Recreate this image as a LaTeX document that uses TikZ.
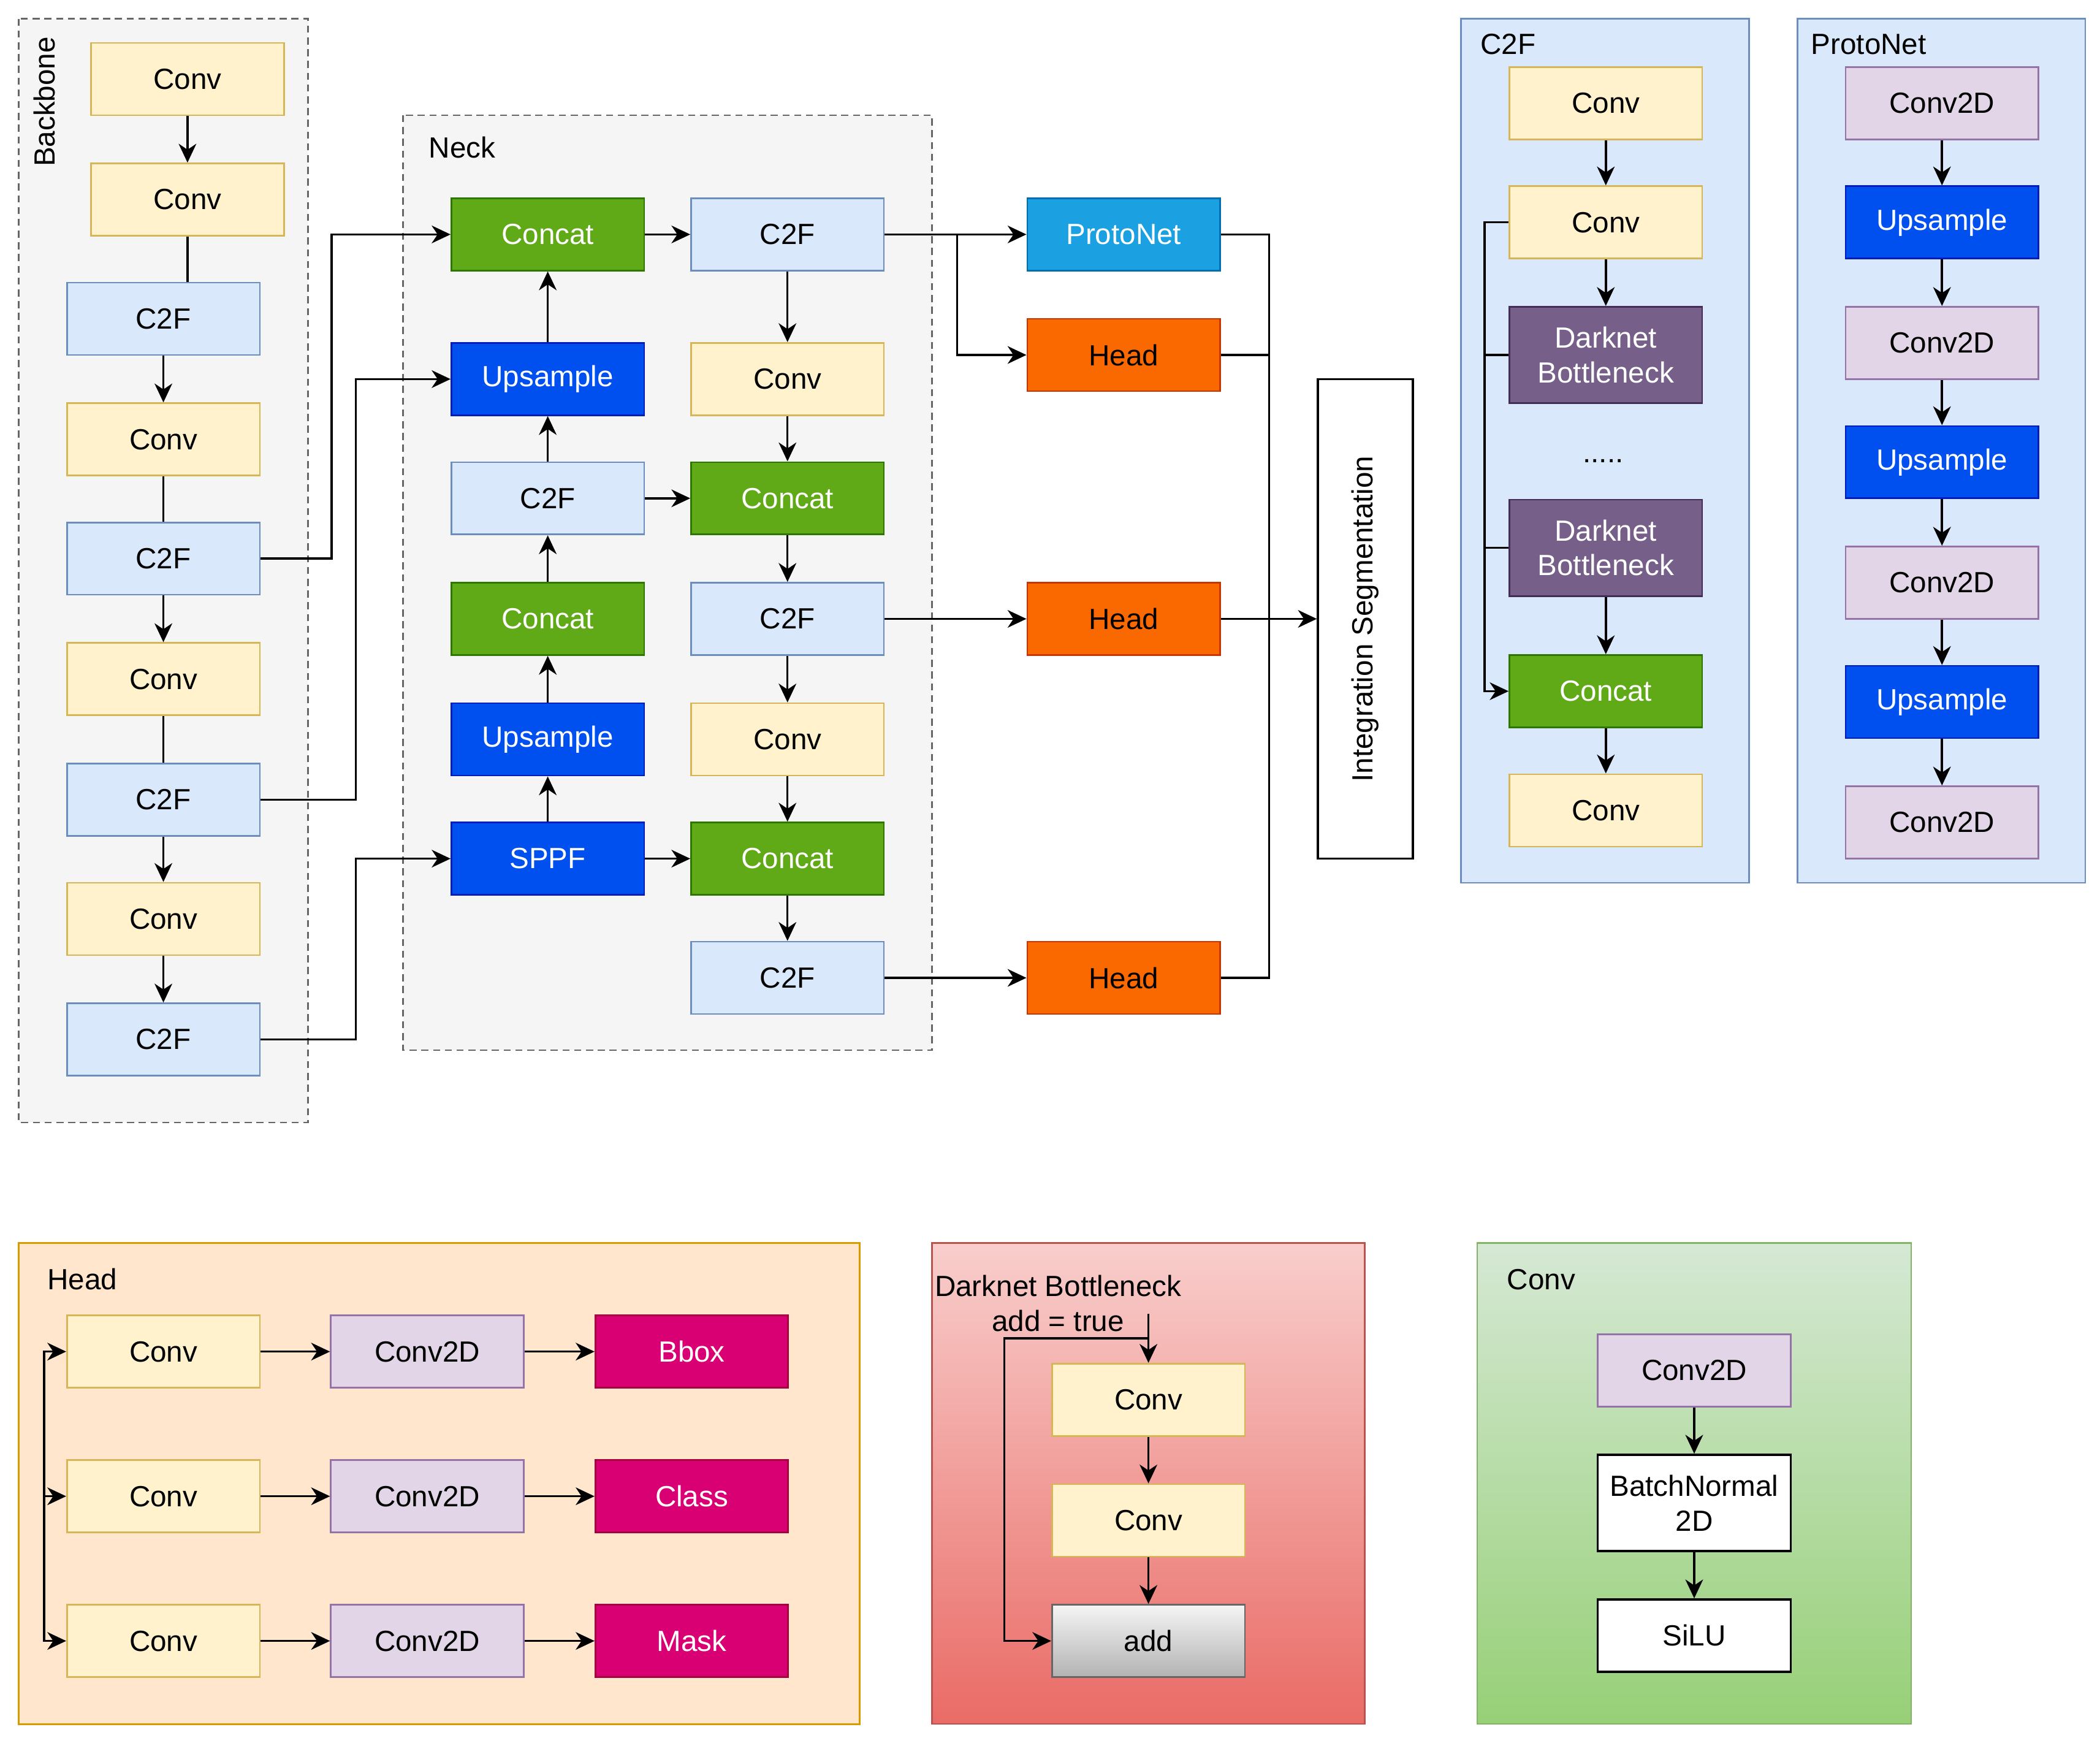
\documentclass[tikz,border=0pt]{standalone}
\usepackage{fontspec}
\setmainfont{Liberation Sans}
\usetikzlibrary{arrows.meta,calc}
\definecolor{convF}{HTML}{FFF2CC}\definecolor{convD}{HTML}{D6B656}
\definecolor{c2fF}{HTML}{DAE8FC}\definecolor{c2fD}{HTML}{6C8EBF}
\definecolor{catF}{HTML}{60A917}\definecolor{catD}{HTML}{2D7600}
\definecolor{upF}{HTML}{0050EF}\definecolor{upD}{HTML}{001DBC}
\definecolor{pnF}{HTML}{1BA1E2}\definecolor{pnD}{HTML}{006EAF}
\definecolor{hdF}{HTML}{FA6800}\definecolor{hdD}{HTML}{C73500}
\definecolor{dbF}{HTML}{76608A}\definecolor{dbD}{HTML}{432D57}
\definecolor{cdF}{HTML}{E1D5E7}\definecolor{cdD}{HTML}{9673A6}
\definecolor{mgF}{HTML}{D80073}\definecolor{mgD}{HTML}{A50040}
\definecolor{grF}{HTML}{F5F5F5}\definecolor{grD}{HTML}{666666}
\definecolor{orF}{HTML}{FFE6CC}\definecolor{orD}{HTML}{D79B00}
\definecolor{rdT}{HTML}{F8CECC}\definecolor{rdB}{HTML}{EA6B66}\definecolor{rdD}{HTML}{B85450}
\definecolor{gnT}{HTML}{D5E8D4}\definecolor{gnB}{HTML}{97D077}\definecolor{gnD}{HTML}{82B366}
\definecolor{adB}{HTML}{B3B3B3}
\tikzset{
  txt/.style={font=\fontsize{12.4}{14.7}\selectfont},
  blk/.style={rectangle, draw, minimum width=2.88cm, minimum height=1.08cm, inner sep=0pt, line width=0.7pt, align=center, txt},
  convbox/.style={blk, fill=convF, draw=convD},
  c2fbox/.style={blk, fill=c2fF, draw=c2fD},
  catbox/.style={blk, fill=catF, draw=catD, text=white},
  upbox/.style={blk, fill=upF, draw=upD, text=white},
  pnbox/.style={blk, fill=pnF, draw=pnD, text=white},
  headbox/.style={blk, fill=hdF, draw=hdD},
  dbbox/.style={blk, fill=dbF, draw=dbD, text=white, minimum height=1.44cm},
  cdbox/.style={blk, fill=cdF, draw=cdD},
  outbox/.style={blk, fill=mgF, draw=mgD, text=white},
  plainbox/.style={blk, fill=white, draw=black, line width=0.9pt},
  addbox/.style={blk, top color=grF, bottom color=adB, draw=grD},
  arr/.style={-{Stealth[length=8pt,width=7.5pt,inset=2.5pt]}, line width=0.9pt},
  ln/.style={line width=0.9pt},
  lbl/.style={txt, inner sep=0pt, anchor=west},
  dashbox/.style={fill=grF, draw=grD, line width=0.7pt, dash pattern=on 3pt off 2pt},
}
\begin{document}
\begin{tikzpicture}[x=0.02cm,y=-0.02cm]
\useasboundingbox (0,0) rectangle (1568,1303);
\fill[white] (0,0) rectangle (1568,1303);
% containers
\draw[dashbox] (14,14) rectangle (230,838);
\draw[dashbox] (301,86) rectangle (696,784);
\draw[fill=c2fF, draw=c2fD, line width=0.7pt] (1091,14) rectangle (1306,659);
\draw[fill=c2fF, draw=c2fD, line width=0.7pt] (1342,14) rectangle (1557,659);
\draw[fill=orF, draw=orD, line width=0.8pt] (14,928) rectangle (642,1287);
\draw[top color=rdT, bottom color=rdB, draw=rdD, line width=0.7pt] (696,928) rectangle (1019,1287);
\draw[top color=gnT, bottom color=gnB, draw=gnD, line width=0.7pt] (1103,928) rectangle (1427,1287);
% container labels
\node[txt, rotate=90, inner sep=0pt] (lbb) at (33,76) {Backbone};
\node[lbl] (lneck) at (320,110) {Neck};
\node[lbl] (lc2f) at (1105,33) {C2F};
\node[lbl] (lpn) at (1352,33) {ProtoNet};
\node[lbl] (lhead) at (35,955) {Head};
\node[lbl] (lconv) at (1125,955) {Conv};
\node[txt, align=center, inner sep=0pt] (ldb) at (790,973) {Darknet Bottleneck\\add = true};
% backbone
\node[convbox] (b1) at (140,59) {Conv};
\node[convbox] (b2) at (140,149) {Conv};
\node[c2fbox] (b3) at (122,238) {C2F};
\node[convbox] (b4) at (122,328) {Conv};
\node[c2fbox] (b5) at (122,417) {C2F};
\node[convbox] (b6) at (122,507) {Conv};
\node[c2fbox] (b7) at (122,597) {C2F};
\node[convbox] (b8) at (122,686) {Conv};
\node[c2fbox] (b9) at (122,776) {C2F};
\draw[arr] (b1) -- (b2);
\draw[ln] (b2.south) -- (b2.south |- b3.north);
\draw[arr] (b3) -- (b4);
\draw[ln] (b4) -- (b5);
\draw[arr] (b5) -- (b6);
\draw[ln] (b6) -- (b7);
\draw[arr] (b7) -- (b8);
\draw[arr] (b8) -- (b9);
% neck
\node[catbox] (n1) at (409,175) {Concat};
\node[upbox] (n2) at (409,283) {Upsample};
\node[c2fbox] (n3) at (409,372) {C2F};
\node[catbox] (n4) at (409,462) {Concat};
\node[upbox] (n5) at (409,552) {Upsample};
\node[upbox] (n6) at (409,641) {SPPF};
\node[c2fbox] (m1) at (588,175) {C2F};
\node[convbox] (m2) at (588,283) {Conv};
\node[catbox] (m3) at (588,372) {Concat};
\node[c2fbox] (m4) at (588,462) {C2F};
\node[convbox] (m5) at (588,552) {Conv};
\node[catbox] (m6) at (588,641) {Concat};
\node[c2fbox] (m7) at (588,730) {C2F};
\draw[arr] (b5.east) -- ++(53,0) |- (n1.west);
\draw[arr] (b7.east) -- ++(71,0) |- (n2.west);
\draw[arr] (b9.east) -- ++(71,0) |- (n6.west);
\draw[arr] (n2) -- (n1);
\draw[arr] (n3) -- (n2);
\draw[arr] (n4) -- (n3);
\draw[arr] (n5) -- (n4);
\draw[arr] (n6) -- (n5);
\draw[arr] (n1) -- (m1);
\draw[arr] (n3) -- (m3);
\draw[arr] (n6) -- (m6);
\draw[arr] (m1) -- (m2);
\draw[arr] (m2) -- (m3);
\draw[arr] (m3) -- (m4);
\draw[arr] (m4) -- (m5);
\draw[arr] (m5) -- (m6);
\draw[arr] (m6) -- (m7);
% outputs
\node[pnbox] (pn) at (839,175) {ProtoNet};
\node[headbox] (h1) at (839,265) {Head};
\node[headbox] (h2) at (839,462) {Head};
\node[headbox] (h3) at (839,730) {Head};
\node[plainbox, rotate=90, minimum width=7.16cm, minimum height=1.42cm] (seg) at (1019.5,462) {Integration Segmentation};
\draw[arr] (m1) -- (pn);
\draw[arr] (m1.east) -- ++(54,0) |- (h1.west);
\draw[arr] (m4) -- (h2);
\draw[arr] (m7) -- (h3);
\draw[ln] (pn.east) -- ++(36,0) coordinate (bus) -- (bus |- h3.east) -- (h3.east);
\draw[ln] (h1.east) -- (bus |- h1.east);
\draw[arr] (h2) -- (seg);
% C2F detail
\node[convbox] (c1) at (1199,77) {Conv};
\node[convbox] (c2) at (1199,166) {Conv};
\node[dbbox] (c3) at (1199,265) {Darknet\\Bottleneck};
\node[txt, inner sep=0pt] (cdots) at (1197,344) {.....};
\node[dbbox] (c4) at (1199,409) {Darknet\\Bottleneck};
\node[catbox] (c5) at (1199,516) {Concat};
\node[convbox] (c6) at (1199,605) {Conv};
\draw[arr] (c1) -- (c2);
\draw[arr] (c2) -- (c3);
\draw[arr] (c4) -- (c5);
\draw[arr] (c5) -- (c6);
\draw[arr] (c2.west) -- ++(-18,0) coordinate (cb) |- (c5.west);
\draw[ln] (c3.west) -- (cb |- c3.west);
\draw[ln] (c4.west) -- (cb |- c4.west);
% ProtoNet detail
\node[cdbox] (p1) at (1450,77) {Conv2D};
\node[upbox] (p2) at (1450,166) {Upsample};
\node[cdbox] (p3) at (1450,256) {Conv2D};
\node[upbox] (p4) at (1450,345) {Upsample};
\node[cdbox] (p5) at (1450,435) {Conv2D};
\node[upbox] (p6) at (1450,524) {Upsample};
\node[cdbox] (p7) at (1450,614) {Conv2D};
\draw[arr] (p1) -- (p2);
\draw[arr] (p2) -- (p3);
\draw[arr] (p3) -- (p4);
\draw[arr] (p4) -- (p5);
\draw[arr] (p5) -- (p6);
\draw[arr] (p6) -- (p7);
% Head detail
\node[convbox] (hc1) at (122,1009) {Conv};
\node[convbox] (hc2) at (122,1117) {Conv};
\node[convbox] (hc3) at (122,1225) {Conv};
\node[cdbox] (hd1) at (319,1009) {Conv2D};
\node[cdbox] (hd2) at (319,1117) {Conv2D};
\node[cdbox] (hd3) at (319,1225) {Conv2D};
\node[outbox] (ho1) at (516.5,1009) {Bbox};
\node[outbox] (ho2) at (516.5,1117) {Class};
\node[outbox] (ho3) at (516.5,1225) {Mask};
\coordinate (hsrc) at (33,1117);
\draw[arr] (hsrc) |- (hc1.west);
\draw[arr] (hsrc) -- (hc2.west);
\draw[arr] (hsrc) |- (hc3.west);
\draw[arr] (hc1) -- (hd1);
\draw[arr] (hd1) -- (ho1);
\draw[arr] (hc2) -- (hd2);
\draw[arr] (hd2) -- (ho2);
\draw[arr] (hc3) -- (hd3);
\draw[arr] (hd3) -- (ho3);
% Darknet bottleneck detail
\node[convbox] (d1) at (857.5,1045) {Conv};
\node[convbox] (d2) at (857.5,1135) {Conv};
\node[addbox] (d3) at (857.5,1225) {add};
\coordinate (dtop) at (857.5,981);
\coordinate (dsplit) at (857.5,999);
\draw[arr] (dtop) -- (d1.north);
\draw[arr] (dsplit) -- ++(-107.5,0) |- (d3.west);
\draw[arr] (d1) -- (d2);
\draw[arr] (d2) -- (d3);
% Conv detail
\node[cdbox] (g1) at (1265,1023) {Conv2D};
\node[plainbox, minimum height=1.44cm] (g2) at (1265,1122) {BatchNormal\\2D};
\node[plainbox] (g3) at (1265,1221) {SiLU};
\draw[arr] (g1) -- (g2);
\draw[arr] (g2) -- (g3);
\end{tikzpicture}
\end{document}
